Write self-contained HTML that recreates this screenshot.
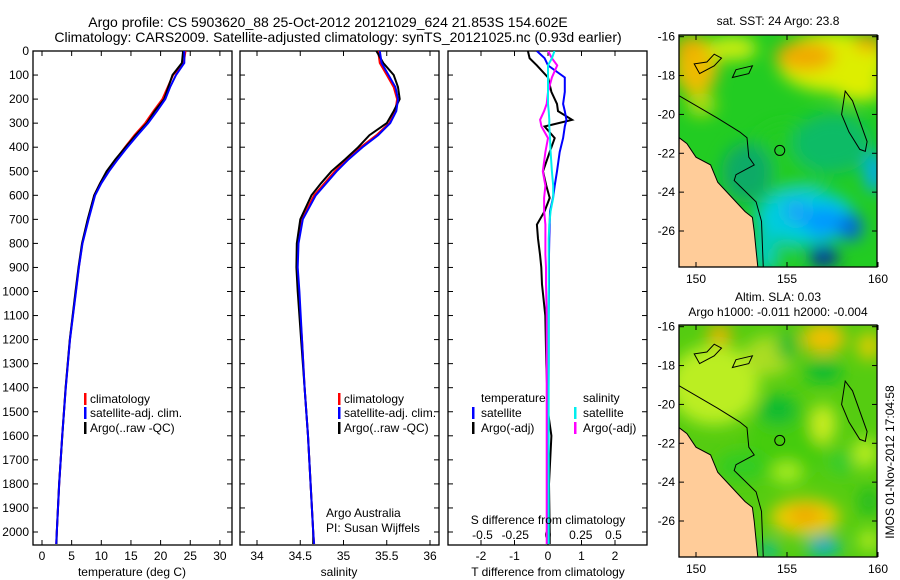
<!DOCTYPE html>
<html><head><meta charset="utf-8">
<style>
html,body{margin:0;padding:0;background:#fff;}
svg{display:block;font-family:"Liberation Sans",sans-serif;}
</style></head>
<body>
<svg id="fig" width="900" height="580" viewBox="0 0 900 580">
<defs>
<clipPath id="c1"><rect x="33" y="51" width="199" height="494"/></clipPath>
<clipPath id="c2"><rect x="240" y="51" width="199" height="494"/></clipPath>
<clipPath id="c3"><rect x="448" y="51" width="199" height="494"/></clipPath>
<clipPath id="cm1"><rect x="679" y="35" width="198" height="232"/></clipPath>
<clipPath id="cm2"><rect x="679" y="325" width="198" height="232"/></clipPath>
<filter id="bl" x="-50%" y="-50%" width="200%" height="200%"><feGaussianBlur stdDeviation="8"/></filter>
</defs>
<text x="328" y="27" font-size="14" text-anchor="middle">Argo profile: CS 5903620_88 25-Oct-2012 20121029_624 21.853S 154.602E</text>
<text x="338" y="42" font-size="14" text-anchor="middle">Climatology: CARS2009. Satellite-adjusted climatology: synTS_20121025.nc (0.93d earlier)</text>
<g id="panels"></g>
<g id="maps"></g>
<text transform="translate(894,462) rotate(-90)" font-size="12" text-anchor="middle">IMOS 01-Nov-2012 17:04:58</text>
</svg>
<script>
// ---- profile data ----
const depths = [0,50,100,150,200,250,300,350,400,450,500,550,600,700,800,900,1000,1200,1400,1600,1800,2000,2050];
const tempClim = [24.2,23.9,22.1,21.2,20.3,18.8,17.4,15.6,14.0,12.5,11.0,9.8,8.8,7.8,6.8,6.2,5.7,4.7,4.0,3.4,2.9,2.5,2.4];
const tempSat = [24.0,24.0,22.6,21.6,20.8,19.4,17.9,16.1,14.4,12.8,11.3,10.0,8.95,7.85,6.83,6.23,5.73,4.72,4.01,3.4,2.9,2.5,2.4];
const tempArgo = [23.8,23.6,22.0,21.3,20.6,19.0,17.7,15.8,14.1,12.4,10.9,9.8,8.8,7.7,6.75,6.15,5.65,4.68,3.98,3.42,2.88,2.5,2.45];
const salClim = [35.40,35.42,35.50,35.58,35.62,35.60,35.53,35.38,35.20,35.04,34.90,34.78,34.66,34.52,34.47,34.46,34.48,34.52,34.55,34.59,34.62,34.65,34.66];
const salSat = [35.42,35.44,35.52,35.60,35.63,35.61,35.54,35.40,35.22,35.06,34.92,34.80,34.68,34.53,34.48,34.47,34.49,34.52,34.55,34.59,34.62,34.65,34.66];
const salArgo = [35.38,35.46,35.58,35.63,35.65,35.58,35.50,35.30,35.17,35.02,34.86,34.74,34.63,34.50,34.46,34.455,34.47,34.51,34.55,34.59,34.62,34.65,34.65];
const diffDepths = [0,30,60,110,170,220,250,286,314,362,420,500,560,611,666,722,780,846,900,970,1100,1300,1500,1600,1800,2000,2050];
const tDiffSat = [-0.33,-0.1,0,0.5,0.5,0.45,0.5,0.55,0.5,0.45,0.35,0.27,0.2,0.15,0.06,0.05,0.04,0.03,0.03,0.03,0.02,0.02,0.01,0.01,0.01,0,0];
const tDiffArgo = [-0.6,-0.55,-0.33,0,0.1,0.27,0.3,0.72,-0.1,0.2,0.05,-0.15,-0.05,0.05,-0.1,-0.33,-0.3,-0.24,-0.2,-0.18,-0.08,-0.05,0,0.1,0.03,0.05,0.05];
const sDiffSat = [0.05,0.03,0,0,0,0,0.005,0.01,0.01,0.015,0.02,0.03,0.04,0.04,0.02,0.01,0.005,0.005,0.005,0.005,0.005,0.005,0.005,0.005,0.005,0.005,0.005];
const sDiffArgo = [0,0.03,0.07,0.03,0,-0.01,-0.03,-0.06,-0.05,0,-0.02,-0.04,-0.02,-0.03,-0.03,-0.02,-0.02,-0.02,-0.015,-0.015,-0.01,-0.01,-0.01,-0.01,-0.01,-0.01,-0.01];
const depthTicks = [0,100,200,300,400,500,600,700,800,900,1000,1100,1200,1300,1400,1500,1600,1700,1800,1900,2000];
const tempTicks = [0,5,10,15,20,25,30];
const salTicks = [34,34.5,35,35.5,36];
const tDiffTicks = [-2,-1,0,1,2];
const sDiffTicks = [-0.5,-0.25,0,0.25,0.5];
const sDiffTickLabels = ["-0.5","-0.25","0","0.25","0.5"];
const latTicks = [-16,-18,-20,-22,-24,-26];
const lonTicks = [150,155,160];

const NS="http://www.w3.org/2000/svg";
const yD = d => 51 + d*0.2405;
const xT = t => 42 + t*5.93;
const xS = s => 257 + (s-34)*86.5;
const xTd = d => 548 + d*33.5;
const xSd = d => 548 + d*131;
function mk(tag, attrs, parent, text){
  const e=document.createElementNS(NS,tag);
  for(const k in attrs) e.setAttribute(k,attrs[k]);
  if(text!==undefined) e.textContent=text;
  parent.appendChild(e); return e;
}
const P=document.getElementById('panels');
const frames=[[33,'temperature-panel'],[240,'salinity-panel'],[448,'difference-panel']];
frames.forEach(([x,n])=>{
  const r=mk('rect',{x:x,y:51,width:199,height:494,fill:'none',stroke:'#000','stroke-width':1.3},P);
  
  
  depthTicks.forEach(d=>{
    mk('line',{x1:x,x2:x+5,y1:yD(d),y2:yD(d),stroke:'#000'},P);
    mk('line',{x1:x+199,x2:x+194,y1:yD(d),y2:yD(d),stroke:'#000'},P);
  });
});
depthTicks.forEach(d=>{
  const t=mk('text',{x:29,y:yD(d)+4,'font-size':12,'text-anchor':'end'},P,String(d));
  
  
});
function xTicks(ticks,fx,labels,ly){
  ticks.forEach((v,i)=>{
    const x=fx(v);
    mk('line',{x1:x,x2:x,y1:51,y2:56,stroke:'#000'},P);
    mk('line',{x1:x,x2:x,y1:545,y2:540,stroke:'#000'},P);
    if(labels){
      const t=mk('text',{x:x,y:ly,'font-size':12,'text-anchor':'middle'},P,labels[i]);
      
      
    }
  });
}
xTicks(tempTicks,xT,tempTicks.map(String),560);
xTicks(salTicks,xS,salTicks.map(String),560);
xTicks(tDiffTicks,xTd,tDiffTicks.map(String),560);
sDiffTicks.forEach((v,i)=>{
  const t=mk('text',{x:xSd(v),y:539,'font-size':12,'text-anchor':'middle'},P,sDiffTickLabels[i]);
  
  
});
function line(xs,ds,fx,color,clip,name){
  const pts=xs.map((v,i)=>fx(v).toFixed(1)+','+yD(ds[i]).toFixed(1)).join(' ');
  const e=mk('polyline',{points:pts,fill:'none',stroke:color,'stroke-width':2,'clip-path':'url(#'+clip+')'},P);
  
  
}
line(tempClim,depths,xT,'#f00','c1','temp-climatology-line');
line(tempArgo,depths,xT,'#000','c1','temp-argo-line');
line(tempSat,depths,xT,'#00f','c1','temp-satellite-line');
line(salClim,depths,xS,'#f00','c2','sal-climatology-line');
line(salArgo,depths,xS,'#000','c2','sal-argo-line');
line(salSat,depths,xS,'#00f','c2','sal-satellite-line');
line(tDiffArgo,diffDepths,xTd,'#000','c3','tdiff-argo-line');
line(tDiffSat,diffDepths,xTd,'#00f','c3','tdiff-satellite-line');
line(sDiffArgo,diffDepths,xSd,'#f0f','c3','sdiff-argo-line');
line(sDiffSat,diffDepths,xSd,'#0ee','c3','sdiff-satellite-line');

function label(x,y,txt,name,anchor){
  const t=mk('text',{x:x,y:y,'font-size':12,'text-anchor':anchor||'start'},P,txt);
  
  
}
function legend(mx,tx,y,color,txt,name){
  mk('rect',{x:mx,y:y-10,width:2.5,height:12,fill:color},P);
  label(tx,y,txt,name);
}
[[84,90],[338,344]].forEach(([m,t],k)=>{
  legend(m,t,403,'#f00','climatology','legend-climatology');
  legend(m,t,417,'#00f','satellite-adj. clim.','legend-satellite');
  legend(m,t,432,'#000','Argo(..raw -QC)','legend-argo');
});
label(481,402,'temperature','legend-temperature-heading');
label(583,402,'salinity','legend-salinity-heading');
legend(472,481,417,'#00f','satellite','legend-t-satellite');
legend(472,481,432,'#000','Argo(-adj)','legend-t-argo');
legend(574,583,417,'#0ee','satellite','legend-s-satellite');
legend(574,583,432,'#f0f','Argo(-adj)','legend-s-argo');
label(326,517,'Argo Australia','credit-argo-australia');
label(326,532,'PI: Susan Wijffels','credit-pi');
label(548,524,'S difference from climatology','s-diff-axis-title','middle');
label(132,576,'temperature (deg C)','temperature-axis-title','middle');
label(339,576,'salinity','salinity-axis-title','middle');
label(548,576,'T difference from climatology','t-diff-axis-title','middle');

// ---- maps ----
const M=document.getElementById('maps');
const mx = lon => 696 + (lon-150)*18.2;
const my = (lat,oy) => 36.7 + oy + (-16-lat)*19.43;
const coast=[[149.07,-21.2],[149.5,-21.5],[150,-22.2],[150.8,-22.6],[151.2,-23.5],[152,-24.3],[152.7,-25],[153.1,-25.3],[153.2,-26],[153.3,-27],[153.4,-27.9],[149.0,-27.9]];
const shelf=[[149.0,-19.0],[151.2,-20.2],[152.4,-20.9],[152.8,-21.2],[152.9,-22.2],[153.2,-22.6],[152.2,-23.1],[152.1,-23.4],[153.3,-24.5],[153.6,-25.5],[153.7,-27.9]];
const reef=[[158.2,-18.8],[158.6,-19.3],[159.4,-21.4],[159.3,-21.9],[159.0,-21.8],[158.4,-20.9],[158.0,-20.0]];
const islands=[[[151.0,-16.9],[151.4,-17.1],[151.0,-17.5],[150.2,-17.9],[149.9,-17.4],[150.6,-17.3]],[[152.2,-17.7],[153.1,-17.5],[152.9,-17.9],[152.0,-18.1]]];
const sstBlobs=[[155,-22.5,40,40,'#22cc22'],[157.5,-17.3,55,30,'#ddee00'],[159,-18.7,25,12,'#ddee00'],[156,-17,30,15,'#f0aa00'],[159.5,-16.3,15,8,'#f0a000'],[150,-17.5,22,30,'#eebb00'],[149.5,-16.5,12,10,'#eeaa00'],[152,-16.6,25,12,'#ccee11'],[150.3,-19.5,15,12,'#aadd11'],[157.5,-21.5,40,30,'#11bb66'],[152.8,-23,25,30,'#11aa66'],[156,-25.3,50,28,'#00ccdd'],[157,-25.5,20,15,'#0099ff'],[155.5,-25,10,10,'#2299ff'],[158.5,-25.8,12,14,'#0066dd'],[157,-27.3,15,10,'#0022aa'],[153.8,-27,10,25,'#00cccc'],[155,-27.3,12,10,'#22cc33'],[159.8,-23,10,20,'#00aaee']];
const slaBlobs=[[155,-22,40,40,'#44cc11'],[151,-19,45,40,'#bbee22'],[154,-17.5,25,20,'#aadd22'],[151.3,-16.4,12,10,'#f0b000'],[157,-16.6,22,16,'#eec000'],[159.5,-17,12,14,'#ddcc00'],[157,-18.3,18,12,'#11bb33'],[154.5,-20.3,20,15,'#11bb33'],[155,-17,10,15,'#22bb33'],[157,-21,12,20,'#ccee22'],[152.5,-23.2,25,15,'#33cc22'],[155,-23.5,15,10,'#aaee22'],[159.3,-22.5,12,15,'#bbee22'],[156,-25.8,35,18,'#eecc00'],[156,-25.7,16,8,'#f0a000'],[157,-27.3,18,9,'#00bbcc'],[157,-27.2,8,5,'#0088ee'],[154,-27.5,8,10,'#00bbaa'],[159.5,-27,10,10,'#bbee22'],[159.5,-25,10,15,'#22bb22'],[158,-23,12,12,'#33cc33']];
function drawMap(oy,bg,blobs,clip,name,ttl){
  const g=mk('g',{'clip-path':'url(#'+clip+')'},M);
  
  
  mk('rect',{x:679,y:35+oy,width:198,height:232,fill:bg},g);
  const bg2=mk('g',{filter:'url(#bl)'},g);
  blobs.forEach(b=>mk('ellipse',{cx:mx(b[0]),cy:my(b[1],oy),rx:b[2],ry:b[3],fill:b[4]},bg2));
  const pp=a=>a.map(p=>mx(p[0]).toFixed(1)+','+my(p[1],oy).toFixed(1)).join(' ');
  const land=mk('polygon',{points:pp(coast),fill:'#ffcc99',stroke:'#000','stroke-width':1},g);
  
  
  mk('polyline',{points:pp(shelf),fill:'none',stroke:'#000','stroke-width':1},g);
  mk('polygon',{points:pp(reef),fill:'none',stroke:'#000','stroke-width':1},g);
  islands.forEach(i=>mk('polygon',{points:pp(i),fill:'none',stroke:'#000','stroke-width':1},g));
  const c=mk('circle',{cx:mx(154.602),cy:my(-21.853,oy),r:5,fill:'none',stroke:'#000','stroke-width':1},g);
  
  
  mk('rect',{x:679,y:35+oy,width:198,height:232,fill:'none',stroke:'#000','stroke-width':1.3},M);
  latTicks.forEach(l=>{
    const y=my(l,oy);
    mk('line',{x1:679,x2:684,y1:y,y2:y,stroke:'#000'},M);
    mk('line',{x1:877,x2:872,y1:y,y2:y,stroke:'#000'},M);
    const t=mk('text',{x:675,y:y+4,'font-size':12,'text-anchor':'end'},M,String(l));
    
    
  });
  lonTicks.forEach(l=>{
    const x=mx(l);
    mk('line',{x1:x,x2:x,y1:35+oy,y2:40+oy,stroke:'#000'},M);
    mk('line',{x1:x,x2:x,y1:267+oy,y2:262+oy,stroke:'#000'},M);
    const t=mk('text',{x:x,y:283+oy,'font-size':12,'text-anchor':'middle'},M,String(l));
    
    
  });
  ttl.forEach((s,i)=>{
    const t=mk('text',{x:778,y:oy+(ttl.length===1?25:(i===0?14:29))-(oy?3:0),'font-size':12,'text-anchor':'middle'},M,s);
    
    
  });
}
drawMap(0,'#22cc22',sstBlobs,'cm1','sst-map',['sat. SST: 24 Argo: 23.8']);
drawMap(290,'#55cc11',slaBlobs,'cm2','sla-map',['Altim. SLA: 0.03','Argo h1000: -0.011 h2000: -0.004']);
</script>
</body></html>
